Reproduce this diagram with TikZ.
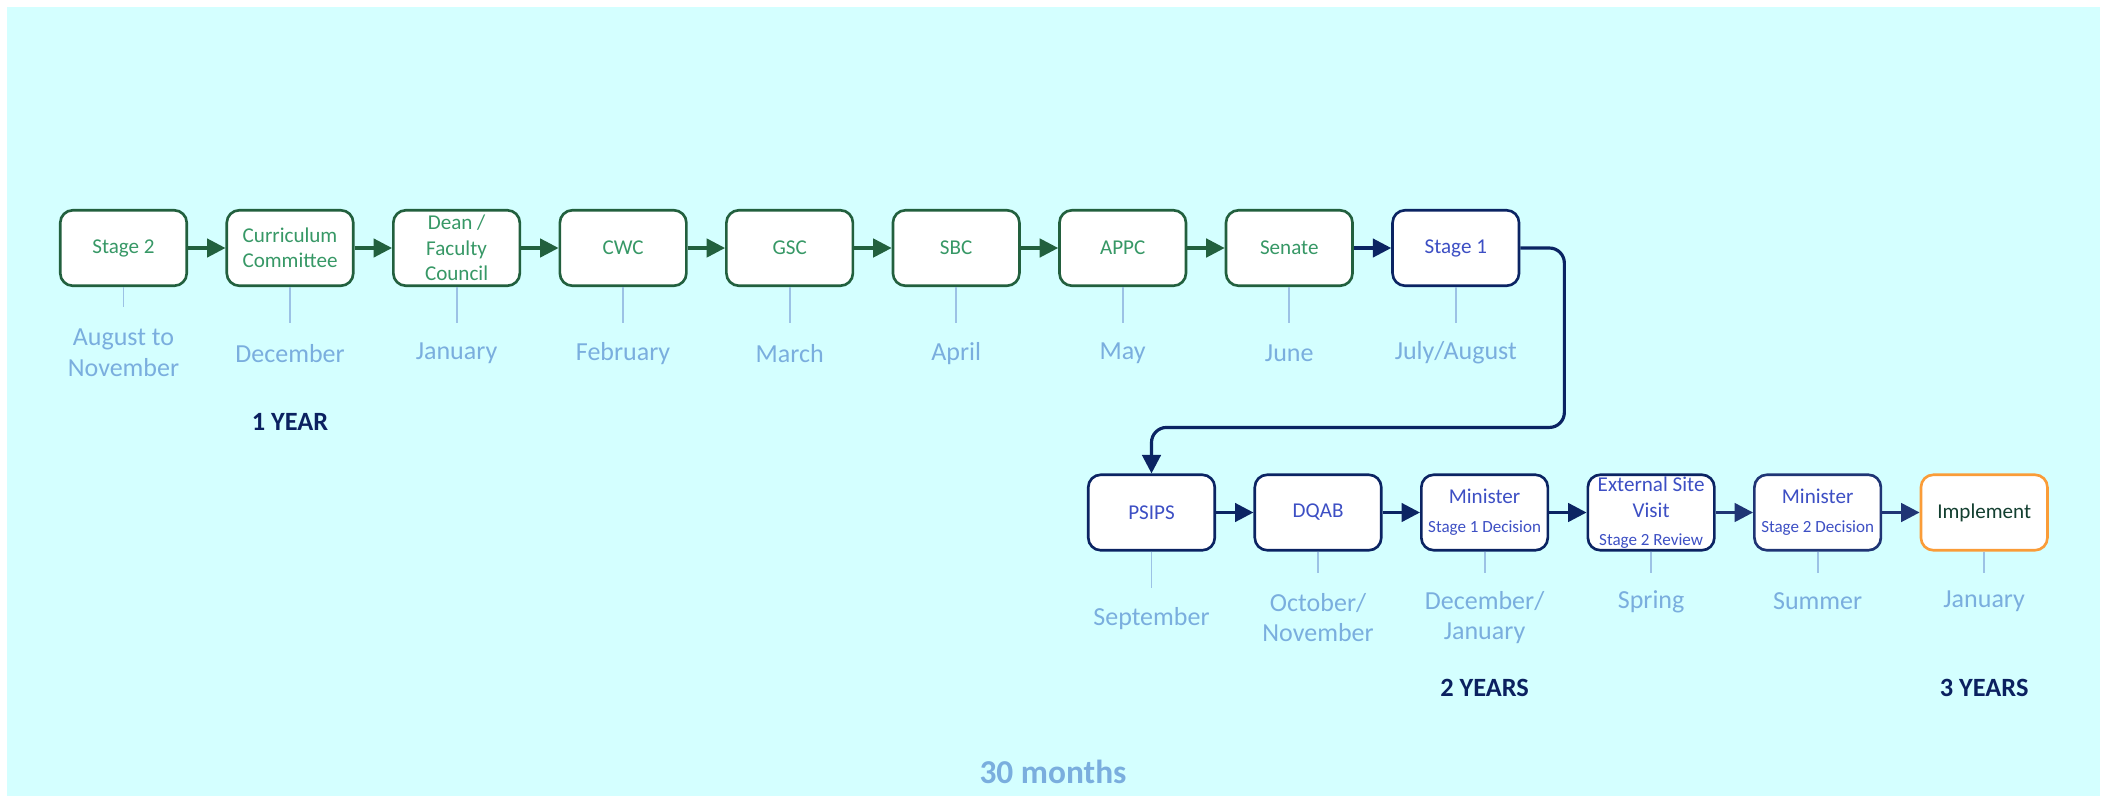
\documentclass[tikz,border=0pt]{standalone}
\usepackage{fontspec}
\setmainfont{Carlito}
\usepackage{tikz}
\usetikzlibrary{positioning, calc, arrows.meta}
\definecolor{bgcyan}{HTML}{D4FFFF}
\definecolor{darkgreen}{HTML}{22603E}
\definecolor{textgreen}{HTML}{379866}
\definecolor{navyblue}{HTML}{0B2463}
\definecolor{midnavy}{HTML}{1F3575}
\definecolor{textblue}{HTML}{3D4FC4}
\definecolor{monthblue}{HTML}{7AAEDE}
\definecolor{tickblue}{HTML}{9CC2E5}
\definecolor{yearnavy}{HTML}{0B2160}
\definecolor{implorange}{HTML}{FA9C38}
\definecolor{darkteal}{HTML}{133F30}
\newcommand{\stagenote}[1]{{\fontsize{9.7}{11}\selectfont #1}}

\begin{document}
\begin{tikzpicture}[font=\fontsize{12}{14.5}\selectfont,
    stagebox/.style={rounded corners=0.25cm, line width=1.5pt, fill=white, minimum width=2.53cm, minimum height=1.51cm, inner sep=0pt, align=center},
    greenbox/.style={stagebox, draw=darkgreen, text=textgreen},
    navybox/.style={stagebox, draw=navyblue, text=textblue},
    greenarrow/.style={-{Triangle[length=10.5pt, width=10.5pt]}, line width=1.8pt, darkgreen},
    navyarrow/.style={-{Triangle[length=10.5pt, width=10.5pt]}, line width=1.8pt, navyblue},
    tickline/.style={tickblue, line width=1.1pt},
    monthlabel/.style={text=monthblue, font=\fontsize{14.8}{17.6}\selectfont, align=center},
    yearlabel/.style={text=yearnavy, font=\bfseries\fontsize{15}{18}\selectfont},
    node distance=0.748cm]
        \useasboundingbox (0,0) rectangle (42.14,-16.04);
        \fill[bgcyan] (0.14,-0.14) rectangle (42.0,-15.92);

        % first row
        \node[greenbox] (s1) at (2.47,-4.96) {Stage 2};
        \node[greenbox, right=of s1] (s2) {Curriculum\\Committee};
        \node[greenbox, right=of s2] (s3) {Dean /\\Faculty\\Council};
        \node[greenbox, right=of s3] (s4) {CWC};
        \node[greenbox, right=of s4] (s5) {GSC};
        \node[greenbox, right=of s5] (s6) {SBC};
        \node[greenbox, right=of s6] (s7) {APPC};
        \node[greenbox, right=of s7] (s8) {Senate};
        \node[navybox, right=of s8] (s9) {Stage 1};

        % second row
        \node[navybox] (r1) at (23.03,-10.25) {PSIPS};
        \node[navybox, right=of r1] (r2) {DQAB};
        \node[navybox, right=of r2] (r3) {Minister\\[2pt]\stagenote{Stage 1 Decision}};
        \node[navybox, right=of r3] (r4) {External Site\\Visit\\[1.5pt]\stagenote{Stage 2 Review}};
        \node[navybox, draw=midnavy, right=of r4] (r5) {Minister\\[2pt]\stagenote{Stage 2 Decision}};
        \node[stagebox, draw=implorange, text=darkteal, right=of r5] (r6) {Implement};

        \draw[greenarrow] (s1) -- (s2);
        \draw[greenarrow] (s2) -- (s3);
        \draw[greenarrow] (s3) -- (s4);
        \draw[greenarrow] (s4) -- (s5);
        \draw[greenarrow] (s5) -- (s6);
        \draw[greenarrow] (s6) -- (s7);
        \draw[greenarrow] (s7) -- (s8);
        \draw[navyarrow] (s8) -- (s9);
        \draw[navyarrow, rounded corners=0.3cm] (s9.east) -- ++(0.88,0) |- ($(r1.north)+(0,0.92)$) -- (r1.north);
        \draw[navyarrow] (r1) -- (r2);
        \draw[navyarrow] (r2) -- (r3);
        \draw[navyarrow] (r3) -- (r4);
        \draw[navyarrow, midnavy] (r4) -- (r5);
        \draw[navyarrow, midnavy] (r5) -- (r6);

        % ticks and months
        \draw[tickline] (s1.south) -- ++(0,-0.40);
        \draw[tickline] (s2.south) -- ++(0,-0.72);
        \draw[tickline] (s3.south) -- ++(0,-0.72);
        \draw[tickline] (s4.south) -- ++(0,-0.72);
        \draw[tickline] (s5.south) -- ++(0,-0.72);
        \draw[tickline] (s6.south) -- ++(0,-0.72);
        \draw[tickline] (s7.south) -- ++(0,-0.72);
        \draw[tickline] (s8.south) -- ++(0,-0.72);
        \draw[tickline] (s9.south) -- ++(0,-0.72);
        \draw[tickline] (r1.south) -- ++(0,-0.72);
        \draw[tickline] (r2.south) -- ++(0,-0.42);
        \draw[tickline] (r3.south) -- ++(0,-0.42);
        \draw[tickline] (r4.south) -- ++(0,-0.42);
        \draw[tickline] (r5.south) -- ++(0,-0.42);
        \draw[tickline] (r6.south) -- ++(0,-0.42);

        \node[monthlabel] (m1) at ($(s1.south)+(0,-1.32)$) {August to\\November};
        \node[monthlabel] (m2) at ($(s2.south)+(0,-1.32)$) {December};
        \node[monthlabel] (m3) at ($(s3.south)+(0,-1.32)$) {January};
        \node[monthlabel] (m4) at ($(s4.south)+(0,-1.32)$) {February};
        \node[monthlabel] (m5) at ($(s5.south)+(0,-1.32)$) {March};
        \node[monthlabel] (m6) at ($(s6.south)+(0,-1.32)$) {April};
        \node[monthlabel] (m7) at ($(s7.south)+(0,-1.32)$) {May};
        \node[monthlabel] (m8) at ($(s8.south)+(0,-1.32)$) {June};
        \node[monthlabel] (m9) at ($(s9.south)+(0,-1.32)$) {July/August};
        \node[monthlabel] (n1) at ($(r1.south)+(0,-1.34)$) {September};
        \node[monthlabel] (n2) at ($(r2.south)+(0,-1.32)$) {October/\\November};
        \node[monthlabel] (n3) at ($(r3.south)+(0,-1.32)$) {December/\\January};
        \node[monthlabel] (n4) at ($(r4.south)+(0,-1.0)$) {Spring};
        \node[monthlabel] (n5) at ($(r5.south)+(0,-1.0)$) {Summer};
        \node[monthlabel] (n6) at ($(r6.south)+(0,-1.0)$) {January};

        \node[yearlabel] (y1) at ($(s2.south)+(0,-2.7)$) {1 YEAR};
        \node[yearlabel] (y2) at ($(r3.south)+(0,-2.72)$) {2 YEARS};
        \node[yearlabel] (y3) at ($(r6.south)+(0,-2.72)$) {3 YEARS};
        \node[text=monthblue, font=\bfseries\fontsize{19}{22}\selectfont] (total) at (21.06,-15.44) {30 months};
    \end{tikzpicture}
\end{document}
